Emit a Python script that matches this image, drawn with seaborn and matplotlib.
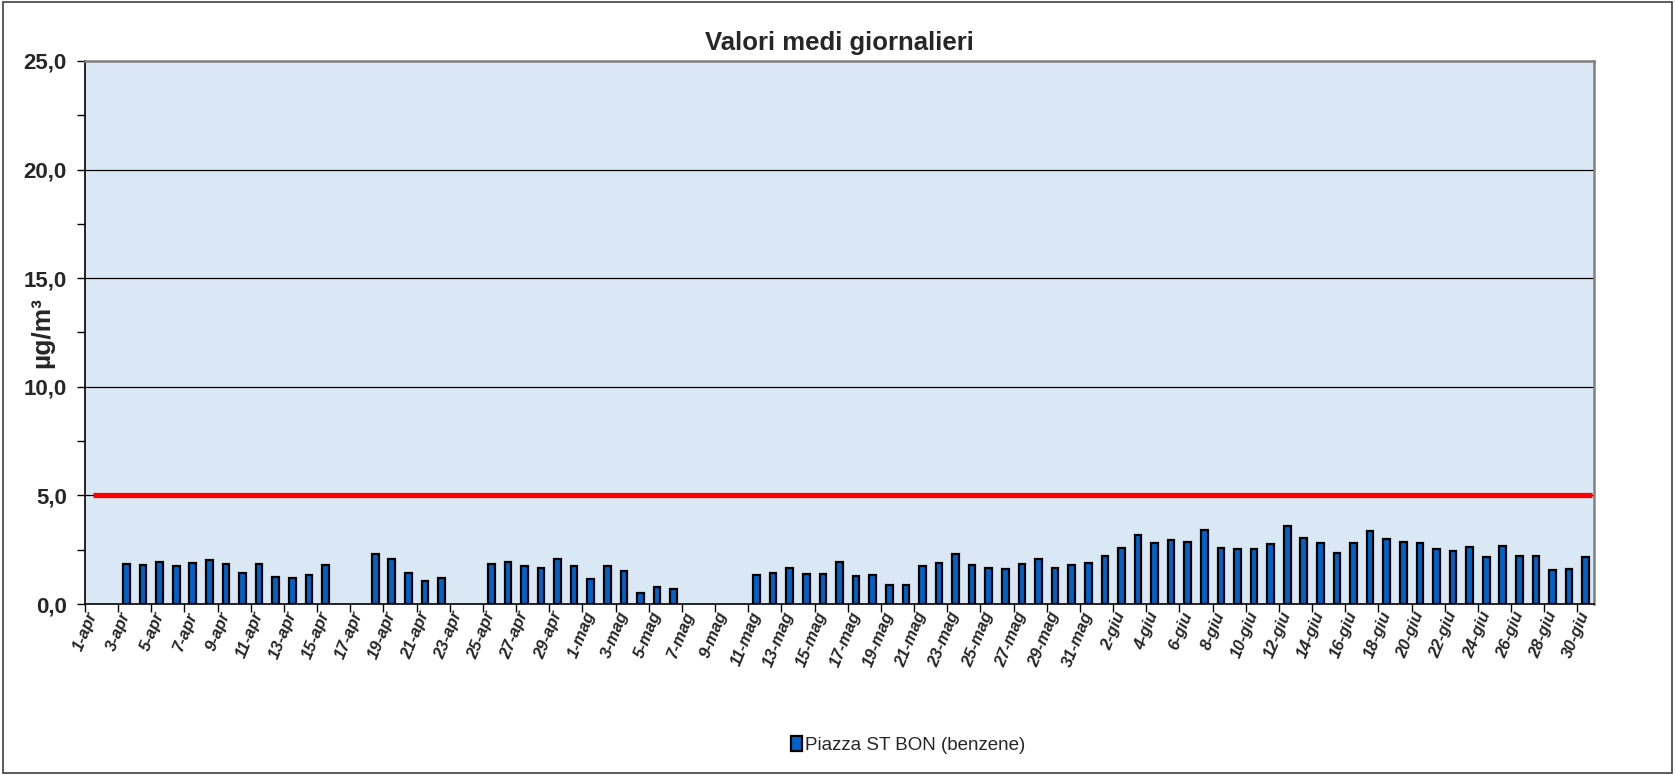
import numpy as np
import pandas as pd
import matplotlib
matplotlib.use("Agg")
import matplotlib.pyplot as plt
from matplotlib.patches import Rectangle
import seaborn as sns

# --- data -----------------------------------------------------------------
mesi = ["apr", "mag", "giu"]
giorni_mese = [30, 31, 30]

# daily mean benzene concentration (µg/m³); NaN = no valid measurement
aprile = [np.nan, np.nan, 1.86, 1.78, 1.95, 1.75, 1.89, 2.02, 1.82, 1.45,
          1.86, 1.25, 1.20, 1.34, 1.78, np.nan, np.nan, 2.28, 2.09, 1.45,
          1.06, 1.22, np.nan, np.nan, 1.83, 1.94, 1.75, 1.68, 2.08, 1.77]
maggio = [1.17, 1.77, 1.52, 0.52, 0.77, 0.71, np.nan, np.nan, np.nan, np.nan,
          1.34, 1.45, 1.68, 1.38, 1.37, 1.95, 1.28, 1.35, 0.88, 0.86,
          1.77, 1.88, 2.29, 1.80, 1.66, 1.63, 1.83, 2.05, 1.68, 1.78, 1.91]
giugno = [2.22, 2.57, 3.17, 2.82, 2.94, 2.85, 3.40, 2.57, 2.54, 2.52,
          2.75, 3.58, 3.03, 2.80, 2.37, 2.83, 3.34, 2.97, 2.85, 2.80,
          2.52, 2.46, 2.62, 2.18, 2.68, 2.22, 2.20, 1.55, 1.63, 2.18]

valore_limite = 5.0
y_ticks = [0, 5, 10, 15, 20, 25]
y_tick_labels = ["0,0", "5,0", "10,0", "15,0", "20,0", "25,0"]

serie = "Piazza ST BON (benzene)"
titolo = "Valori medi giornalieri"
unita = "µg/m³"

giorni = [f"{d}-{m}" for m, n in zip(mesi, giorni_mese) for d in range(1, n + 1)]
valori = aprile + maggio + giugno
df = pd.DataFrame({"giorno": giorni, "valore": valori})

# --- style ----------------------------------------------------------------
sns.set_theme(style="white")
plt.rcParams["font.family"] = ["Liberation Sans", "DejaVu Sans"]

fig = plt.figure(figsize=(16.75, 7.75), dpi=100)
ax = fig.add_axes([85 / 1675, 1 - 604 / 775, (1594 - 85) / 1675, (604 - 61) / 775])
ax.set_facecolor("#dae8f6")

sns.barplot(data=df, x="giorno", y="valore", order=giorni, ax=ax,
            color="#0063cb", saturation=1, width=0.4, errorbar=None,
            edgecolor="black", linewidth=1.6, label=serie, zorder=3)

# reference limit
n = len(giorni)
ax.plot([0, n - 0.6], [valore_limite, valore_limite], color="#ff0000",
        linewidth=3.8, solid_capstyle="butt", zorder=4)

# axes
ax.set_xlim(-0.5, n - 0.5)
ax.set_ylim(0, 25)
ax.set_yticks(y_ticks)
ax.set_yticklabels(y_tick_labels, fontsize=16, fontweight="bold")
ax.set_yticks(np.arange(0, 25.01, 2.5), minor=True)
ax.tick_params(axis="y", which="both", direction="out", length=6, width=1,
               color="black", left=True, pad=7)

ax.set_xticks(range(0, n, 2))
ax.set_xticklabels(giorni[::2], rotation=68, ha="right", va="center",
                   rotation_mode="anchor", fontsize=12,
                   fontweight="bold", fontstyle="italic")
ax.set_xticks(np.arange(-0.5, n, 2), minor=True)
ax.tick_params(axis="x", which="major", length=0, pad=6)
ax.tick_params(axis="x", which="minor", direction="out", length=6, width=1,
               color="black", bottom=True)

ax.set_xlabel("")
ax.set_ylabel("")
for y in y_ticks[1:-1]:
    ax.axhline(y, color="black", linewidth=0.9, zorder=2)

for side in ("left", "bottom"):
    ax.spines[side].set_color("black")
    ax.spines[side].set_linewidth(1.2)
for side in ("top", "right"):
    ax.spines[side].set_color("#808080")
    ax.spines[side].set_linewidth(1.8)

# texts
fig.text((85 + 1594) / 2 / 1675, 1 - 43 / 775, titolo, ha="center",
         va="center", fontsize=18.5, fontweight="bold")
fig.text(42 / 1675, 1 - 333 / 775, unita, rotation=90, ha="center",
         va="center", fontsize=19, fontweight="bold")

leg = ax.legend(loc="center", bbox_to_anchor=(908 / 1675, 1 - 745 / 775),
                bbox_transform=fig.transFigure, frameon=False,
                fontsize=13.5, handlelength=0.6, handleheight=0.9,
                handletextpad=0.15, borderaxespad=0)

# chart-area frame
fig.patches.append(Rectangle((0.0015, 0.003), 0.997, 0.995,
                             transform=fig.transFigure, fill=False,
                             edgecolor="#404040", linewidth=1.2))

fig.savefig("out.png", dpi=100, facecolor="white")
